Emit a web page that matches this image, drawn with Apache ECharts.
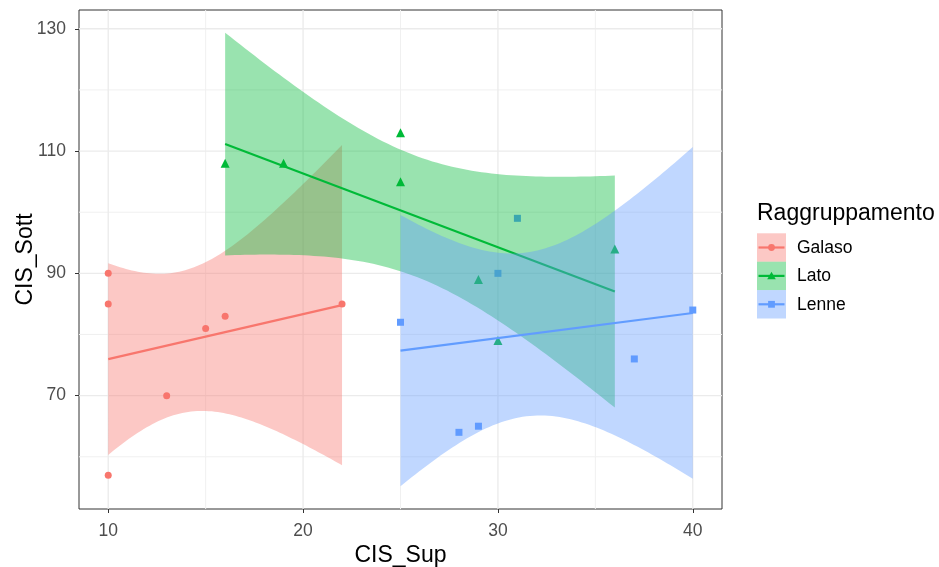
<!DOCTYPE html>
<html>
<head>
<meta charset="utf-8">
<script src="https://cdn.jsdelivr.net/npm/echarts@6/dist/echarts.min.js"></script>
<style>
html,body{margin:0;padding:0;background:#fff;}
#chart{width:939px;height:567px;}
</style>
</head>
<body>
<div id="chart"></div>
<script>
// ---- data ----
const groupNames = ['Galaso', 'Lato', 'Lenne'];
const xGalaso = [10, 10, 10, 13, 15, 16, 22];
const yGalaso = [90, 85, 57, 70, 81, 83, 85];
const xLato = [16, 19, 25, 25, 29, 30, 36];
const yLato = [108, 108, 113, 105, 89, 79, 94];
const xLenne = [25, 31, 30, 28, 29, 37, 40];
const yLenne = [82, 99, 90, 64, 65, 76, 84];

const xTicks = [10, 20, 30, 40];
const xMinorTicks = [15, 25, 35];
const yTicks = [70, 90, 110, 130];
const yMinorTicks = [60, 80, 100, 120];

const groupColors = ['#F8766D', '#00BA38', '#619CFF'];
const bandColors = ['rgba(248,118,109,0.4)', 'rgba(0,186,56,0.4)', 'rgba(97,156,255,0.4)'];
const symbols = ['circle', 'triangle', 'rect'];
const symbolSizes = [7, 9, 7];

// ---- linear model + 95% confidence band (as geom_smooth(method = "lm")) ----
const T975_DF5 = 2.570582; // t quantile, n = 7 -> df = 5
function lmFit(xs, ys) {
  const n = xs.length;
  const mx = xs.reduce((a, b) => a + b, 0) / n;
  const my = ys.reduce((a, b) => a + b, 0) / n;
  let sxx = 0, sxy = 0;
  for (let i = 0; i < n; i++) { sxx += (xs[i] - mx) ** 2; sxy += (xs[i] - mx) * (ys[i] - my); }
  const b = sxy / sxx, a = my - b * mx;
  let sse = 0;
  for (let i = 0; i < n; i++) sse += (ys[i] - a - b * xs[i]) ** 2;
  const s = Math.sqrt(sse / (n - 2));
  const lo = Math.min(...xs), hi = Math.max(...xs);
  const band = [];
  const N = 80;
  for (let k = 0; k < N; k++) {
    const x = lo + (hi - lo) * k / (N - 1);
    const f = a + b * x;
    const se = s * Math.sqrt(1 / n + (x - mx) ** 2 / sxx);
    band.push([x, f - T975_DF5 * se, f + T975_DF5 * se]);
  }
  return { line: [[lo, a + b * lo], [hi, a + b * hi]], band };
}

const groupsX = [xGalaso, xLato, xLenne];
const groupsY = [yGalaso, yLato, yLenne];
const fits = groupsX.map((xs, i) => lmFit(xs, groupsY[i]));

// ggplot-like 5% expansion of the full range
let yLo = Infinity, yHi = -Infinity, xLo = Infinity, xHi = -Infinity;
groupsX.forEach((xs, i) => {
  xs.forEach(v => { xLo = Math.min(xLo, v); xHi = Math.max(xHi, v); });
  groupsY[i].forEach(v => { yLo = Math.min(yLo, v); yHi = Math.max(yHi, v); });
  fits[i].band.forEach(p => { yLo = Math.min(yLo, p[1]); yHi = Math.max(yHi, p[2]); });
});
const xPad = (xHi - xLo) * 0.05, yPad = (yHi - yLo) * 0.05;

const FONT = '"Liberation Sans", Arial, sans-serif';
const series = [];
// grid lines
const gridData = [];
xMinorTicks.forEach(v => gridData.push([v, 0, 0]));
yMinorTicks.forEach(v => gridData.push([v, 1, 0]));
xTicks.forEach(v => gridData.push([v, 0, 1]));
yTicks.forEach(v => gridData.push([v, 1, 1]));
series.push({
  type: 'custom', name: 'grid', silent: true, z: 0,
  data: gridData,
  encode: { x: -1, y: -1 },
  renderItem: function (params, api) {
    const cs = params.coordSys;
    const v = api.value(0), horiz = api.value(1) === 1, major = api.value(2) === 1;
    let shape;
    if (horiz) {
      const p = api.coord([xLo - xPad, v]);
      shape = { x1: cs.x, y1: p[1], x2: cs.x + cs.width, y2: p[1] };
    } else {
      const p = api.coord([v, yLo - yPad]);
      shape = { x1: p[0], y1: cs.y, x2: p[0], y2: cs.y + cs.height };
    }
    return { type: 'line', shape: shape, style: { stroke: major ? '#EBEBEB' : '#F0F0F0', lineWidth: major ? 1.3 : 1 } };
  }
});
// points
groupNames.forEach((g, i) => {
  series.push({
    type: 'scatter', name: g, z: 1,
    symbol: symbols[i], symbolSize: symbolSizes[i],
    itemStyle: { color: groupColors[i], opacity: 1 },
    data: groupsX[i].map((x, k) => [x, groupsY[i][k]])
  });
});
// smooth: ribbon + line per group
groupNames.forEach((g, i) => {
  const band = fits[i].band;
  series.push({
    type: 'custom', name: g + ' CI', z: 2 + 2 * i, silent: true,
    data: band,
    encode: { x: 0, y: [1, 2] },
    clip: true,
    renderItem: function (params, api) {
      if (params.dataIndex !== 0) return null;
      const up = band.map(p => api.coord([p[0], p[2]]));
      const dn = band.slice().reverse().map(p => api.coord([p[0], p[1]]));
      return { type: 'polygon', shape: { points: up.concat(dn) }, style: { fill: bandColors[i], stroke: null } };
    }
  });
  series.push({
    type: 'line', name: g + ' fit', z: 3 + 2 * i, silent: true,
    showSymbol: false, symbol: 'none',
    lineStyle: { color: groupColors[i], width: 2.2 },
    data: fits[i].line
  });
});

// legend drawn as ggplot-style keys
const legendEls = [];
legendEls.push({ type: 'text', left: 757, top: 202, style: { text: 'Raggruppamento', font: '23px ' + FONT, fill: '#000' } });
groupNames.forEach((g, i) => {
  const top = 233.3 + 28.4 * i, cy = top + 14.2, cx = 771.5;
  legendEls.push({ type: 'rect', shape: { x: 757, y: top, width: 29, height: 28.4 }, style: { fill: bandColors[i] } });
  legendEls.push({ type: 'line', shape: { x1: 758.5, y1: cy, x2: 784.5, y2: cy }, style: { stroke: groupColors[i], lineWidth: 2.2 } });
  if (i === 0) legendEls.push({ type: 'circle', shape: { cx: cx, cy: cy, r: 3.4 }, style: { fill: groupColors[i] } });
  if (i === 1) legendEls.push({ type: 'polygon', shape: { points: [[cx, cy - 4.2], [cx + 4.3, cy + 3.3], [cx - 4.3, cy + 3.3]] }, style: { fill: groupColors[i] } });
  if (i === 2) legendEls.push({ type: 'rect', shape: { x: cx - 3.4, y: cy - 3.4, width: 6.8, height: 6.8 }, style: { fill: groupColors[i] } });
  legendEls.push({ type: 'text', x: 797, y: cy + 0.5, style: { text: g, font: '17.5px ' + FONT, fill: '#000', verticalAlign: 'middle', textVerticalAlign: 'middle' } });
});

const chart = echarts.init(document.getElementById('chart'), null, { renderer: 'canvas' });
chart.setOption({
  animation: false,
  backgroundColor: '#ffffff',
  textStyle: { fontFamily: FONT },
  grid: { left: 79, right: 217, top: 10, bottom: 58, show: true, borderColor: '#333333', borderWidth: 1, backgroundColor: 'transparent', containLabel: false, outerBoundsMode: 'none' },
  xAxis: {
    type: 'value', min: xLo - xPad, max: xHi + xPad,
    name: 'CIS_Sup', nameLocation: 'middle', nameGap: 35, nameMoveOverlap: false,
    nameTextStyle: { fontSize: 23, color: '#000' },
    axisLine: { show: false },
    axisTick: { show: true, length: 4, customValues: xTicks, lineStyle: { color: '#333333', width: 1 } },
    axisLabel: { customValues: xTicks, fontSize: 17.5, color: '#4D4D4D', margin: 13 },
    splitLine: { show: false }
  },
  yAxis: {
    type: 'value', min: yLo - yPad, max: yHi + yPad,
    name: 'CIS_Sott', nameLocation: 'middle', nameGap: 42, nameMoveOverlap: false,
    nameTextStyle: { fontSize: 23, color: '#000' },
    axisLine: { show: false },
    axisTick: { show: true, length: 4, customValues: yTicks, lineStyle: { color: '#333333', width: 1 } },
    axisLabel: { customValues: yTicks, fontSize: 17.5, color: '#4D4D4D', margin: 13 },
    splitLine: { show: false }
  },
  graphic: legendEls,
  series: series
});
</script>
</body>
</html>
